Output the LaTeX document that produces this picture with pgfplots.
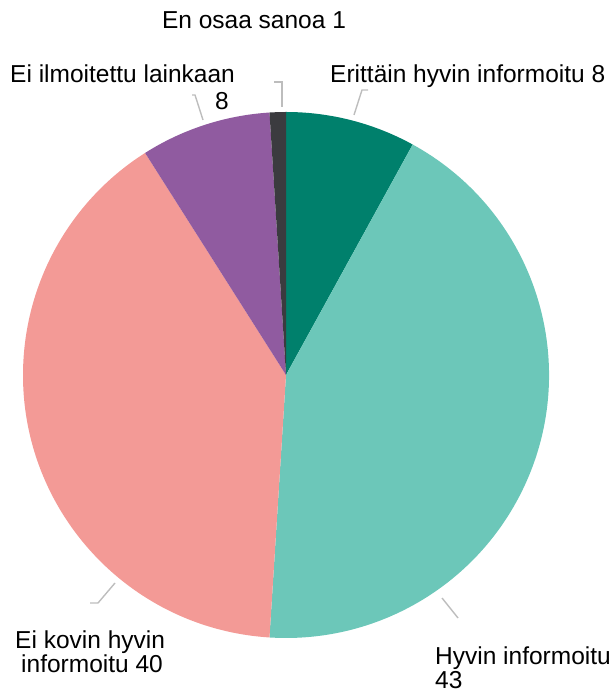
\documentclass[border=0pt]{standalone}
\usepackage{pgfplots}
\usepackage{pgfplotstable}
\pgfplotsset{compat=1.18}
\usepackage{fontspec}
\setmainfont{Liberation Sans}
\definecolor{cA}{HTML}{00806C}
\definecolor{cB}{HTML}{6CC7B9}
\definecolor{cC}{HTML}{F39A96}
\definecolor{cD}{HTML}{905BA0}
\definecolor{cE}{HTML}{3B3B3F}
\definecolor{lead}{HTML}{BDBDBD}
\tikzset{lbl/.style={font=\fontsize{24.5}{25}\selectfont, inner sep=0pt}}
% values, clockwise from 12 o'clock
\pgfplotstableread{
value
8
43
40
8
1
}\piedata
\begin{document}
\begin{tikzpicture}
\pgfplotstablegetelem{0}{value}\of\piedata\pgfmathsetmacro\vA{\pgfplotsretval}
\pgfplotstablegetelem{1}{value}\of\piedata\pgfmathsetmacro\vB{\pgfplotsretval}
\pgfplotstablegetelem{2}{value}\of\piedata\pgfmathsetmacro\vC{\pgfplotsretval}
\pgfplotstablegetelem{3}{value}\of\piedata\pgfmathsetmacro\vD{\pgfplotsretval}
\pgfplotstablegetelem{4}{value}\of\piedata\pgfmathsetmacro\vE{\pgfplotsretval}
\pgfmathsetmacro\tot{\vA+\vB+\vC+\vD+\vE}
\pgfmathsetmacro\aA{90}
\pgfmathsetmacro\aB{\aA-360*\vA/\tot}
\pgfmathsetmacro\aC{\aB-360*\vB/\tot}
\pgfmathsetmacro\aD{\aC-360*\vC/\tot}
\pgfmathsetmacro\aE{\aD-360*\vD/\tot}
\pgfmathsetmacro\aF{\aE-360*\vE/\tot}
\begin{axis}[
  scale only axis, width=609pt, height=693pt,
  xmin=0, xmax=609, ymin=0, ymax=693,
  hide axis, clip=false,
]
\fill[cA] (axis cs:286,318) -- ++(\aA:263pt) arc[start angle=\aA, end angle=\aB, radius=263pt] -- cycle;
\fill[cB] (axis cs:286,318) -- ++(\aB:263pt) arc[start angle=\aB, end angle=\aC, radius=263pt] -- cycle;
\fill[cC] (axis cs:286,318) -- ++(\aC:263pt) arc[start angle=\aC, end angle=\aD, radius=263pt] -- cycle;
\fill[cD] (axis cs:286,318) -- ++(\aD:263pt) arc[start angle=\aD, end angle=\aE, radius=263pt] -- cycle;
\fill[cE] (axis cs:286,318) -- ++(\aE:263pt) arc[start angle=\aE, end angle=\aF, radius=263pt] -- cycle;
% leader lines
\draw[lead, line width=1.4pt] (axis cs:368,603) -- (axis cs:362,603) -- (axis cs:354,578);
\draw[lead, line width=1.4pt] (axis cs:274,611) -- (axis cs:282,611) -- (axis cs:282,586);
\draw[lead, line width=1.4pt] (axis cs:192,598) -- (axis cs:195,598) -- (axis cs:203,573);
\draw[lead, line width=1.4pt] (axis cs:90,90) -- (axis cs:98,90) -- (axis cs:115,110);
\draw[lead, line width=1.4pt] (axis cs:442,95) -- (axis cs:458,75);
% labels
\node[lbl, anchor=base] at (axis cs:254,664) {En osaa sanoa 1};
\node[lbl, anchor=base west] at (axis cs:10,610) {Ei ilmoitettu lainkaan};
\node[lbl, anchor=base east] at (axis cs:229,583) {8};
\node[lbl, anchor=base west] at (axis cs:330,610) {Erittäin hyvin informoitu 8};
\node[lbl, anchor=base west] at (axis cs:15,44) {Ei kovin hyvin};
\node[lbl, anchor=base west] at (axis cs:21,20) {informoitu 40};
\node[lbl, anchor=base west] at (axis cs:435,28) {Hyvin informoitu};
\node[lbl, anchor=base west] at (axis cs:435,5) {43};
\end{axis}
\path (current axis.south west) rectangle (current axis.north east);
\end{tikzpicture}
\end{document}
